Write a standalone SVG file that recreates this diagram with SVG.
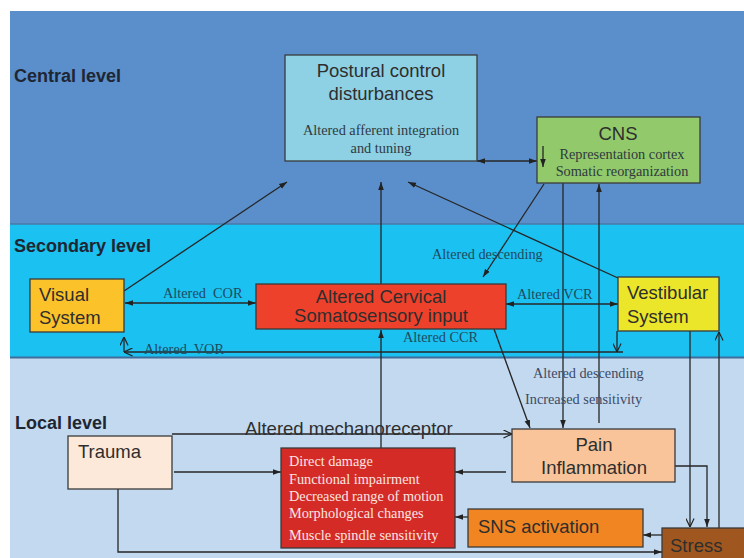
<svg xmlns="http://www.w3.org/2000/svg" width="744" height="558" viewBox="0 0 744 558">
<style>
.lvl{font-family:"Liberation Sans",Arial,sans-serif;font-weight:bold;font-size:18px;fill:#1e2633}
.t{font-family:"Liberation Sans",Arial,sans-serif;font-size:18.5px;fill:#2e2e2e}
.s{font-family:"Liberation Serif","Times New Roman",serif;font-size:14.3px;fill:#2e3a40}
.lab{font-family:"Liberation Serif","Times New Roman",serif;font-size:14.3px;fill:#1f4a5e}
.lab2{font-family:"Liberation Serif","Times New Roman",serif;font-size:14.3px;fill:#3c4a66}
.w{font-family:"Liberation Serif","Times New Roman",serif;font-size:14.3px;fill:#fbe6e3}
.box{stroke:#3a3a3a;stroke-width:1.3}
.c{fill:none;stroke:#262626;stroke-width:1.3}
</style>
<defs>
<marker id="af" viewBox="0 0 10 10" refX="10" refY="5" markerUnits="userSpaceOnUse" markerWidth="8" markerHeight="8" orient="auto-start-reverse"><path d="M0,1.5 L10,5 L0,8.5 z" fill="#222"/></marker>
<marker id="ao" viewBox="0 0 10 10" refX="9.5" refY="5" markerUnits="userSpaceOnUse" markerWidth="9" markerHeight="9" orient="auto-start-reverse"><path d="M0,0.5 L9.5,5 L0,9.5" fill="none" stroke="#222" stroke-width="1.3"/></marker>
</defs>
<rect x="0" y="0" width="744" height="558" fill="#ffffff"/>
<g id="bands">
<rect x="10" y="11" width="734" height="213" fill="#5b8fcb"/>
<rect x="10" y="224" width="734" height="134" fill="#1bc1f1"/>
<rect x="10" y="358" width="734" height="200" fill="#c3d9ef"/>
<line x1="10" y1="224" x2="744" y2="224" stroke="#4a79a8" stroke-width="1.5"/>
<line x1="10" y1="357.5" x2="744" y2="357.5" stroke="#3f6e9c" stroke-width="2"/>
<text class="lvl" x="14" y="82">Central level</text>
<text class="lvl" x="14" y="252">Secondary level</text>
<text class="lvl" x="15" y="429">Local level</text>
</g>
<g id="connectors">
<line class="c" x1="124" y1="291" x2="287" y2="182" marker-end="url(#af)"/>
<line class="c" x1="381" y1="285" x2="381" y2="182" marker-end="url(#af)"/>
<line class="c" x1="618" y1="278" x2="408" y2="182" marker-end="url(#af)"/>
<line class="c" x1="477" y1="161" x2="537" y2="161" marker-start="url(#af)" marker-end="url(#af)"/>
<line class="c" x1="544" y1="184" x2="483" y2="277" marker-end="url(#af)"/>
<line class="c" x1="563" y1="183" x2="563" y2="428" marker-end="url(#af)"/>
<line class="c" x1="599" y1="423" x2="599" y2="184" marker-end="url(#af)"/>
<line class="c" x1="125" y1="303" x2="256" y2="303" marker-start="url(#af)" marker-end="url(#af)"/>
<line class="c" x1="506" y1="304" x2="618" y2="304" marker-start="url(#af)" marker-end="url(#af)"/>
<line class="c" x1="623" y1="352" x2="124" y2="352" marker-end="url(#ao)"/>
<line class="c" x1="124" y1="352" x2="124" y2="337" marker-end="url(#ao)"/>
<line class="c" x1="617" y1="331" x2="617" y2="352" marker-end="url(#ao)"/>
<line class="c" x1="381" y1="448" x2="381" y2="330" marker-end="url(#af)"/>
<line class="c" x1="494" y1="329" x2="530" y2="428" marker-end="url(#af)"/>
<line class="c" x1="174" y1="472" x2="281" y2="472" marker-end="url(#af)"/>
<line class="c" x1="506" y1="472" x2="455" y2="472" marker-end="url(#af)"/>
<line class="c" x1="468" y1="517" x2="455" y2="517" marker-end="url(#af)"/>
<line class="c" x1="172" y1="434" x2="512" y2="434" marker-end="url(#ao)"/>
<polyline class="c" points="118,489 118,552 662,552" marker-end="url(#af)"/>
<polyline class="c" points="675,466 707,466 707,527" marker-end="url(#af)"/>
<line class="c" x1="690" y1="331" x2="690" y2="527" marker-end="url(#ao)"/>
<line class="c" x1="719" y1="528" x2="719" y2="332" marker-end="url(#ao)"/>
<line class="c" x1="662" y1="535" x2="643" y2="535" marker-end="url(#af)"/>
<text class="lab" x="163" y="298">Altered&#160; COR</text>
<text class="lab" x="517" y="299">Altered VCR</text>
<text class="lab" x="432" y="259">Altered descending</text>
<text class="lab" x="403" y="342">Altered CCR</text>
<text class="lab" x="144" y="354">Altered&#160; VOR</text>
<text class="lab2" x="533" y="378">Altered descending</text>
<text class="lab2" x="525" y="404">Increased sensitivity</text>
<text class="t" x="245" y="435" fill="#3a3f48">Altered mechanoreceptor</text>
</g>
<g id="postural">
<rect class="box" x="285" y="55" width="192" height="106" fill="#8fd1e4"/>
<text class="t" x="381" y="77" text-anchor="middle">Postural control</text>
<text class="t" x="381" y="100" text-anchor="middle">disturbances</text>
<text class="s" x="381" y="135" text-anchor="middle">Altered afferent integration</text>
<text class="s" x="381" y="153" text-anchor="middle">and tuning</text>
</g>
<g id="cns">
<rect class="box" x="537" y="117" width="163" height="66" fill="#92c96a"/>
<text class="t" x="618" y="140" text-anchor="middle">CNS</text>
<text class="s" x="622" y="159" text-anchor="middle">Representation cortex</text>
<text class="s" x="622" y="176" text-anchor="middle">Somatic reorganization</text>
<line class="c" x1="543" y1="146" x2="543" y2="167" marker-end="url(#af)"/>
</g>
<g id="visual">
<rect class="box" x="30" y="279" width="94" height="53" fill="#fcc22a"/>
<text class="t" x="39" y="301">Visual</text>
<text class="t" x="39" y="324">System</text>
</g>
<g id="cervical">
<rect class="box" x="256" y="284" width="250" height="45" fill="#ee412b"/>
<text class="t" x="381" y="303" text-anchor="middle">Altered Cervical</text>
<text class="t" x="381" y="322" text-anchor="middle">Somatosensory input</text>
</g>
<g id="vestibular">
<rect class="box" x="618" y="277" width="101" height="54" fill="#ece62a"/>
<text class="t" x="627" y="299">Vestibular</text>
<text class="t" x="627" y="323">System</text>
</g>
<g id="trauma">
<rect class="box" x="68" y="436" width="104" height="53" fill="#fde9d9"/>
<text class="t" x="78" y="458">Trauma</text>
</g>
<g id="damage">
<rect class="box" x="281" y="448" width="174" height="100" fill="#d42b26"/>
<text class="w" x="289" y="466">Direct damage</text>
<text class="w" x="289" y="484">Functional impairment</text>
<text class="w" x="289" y="501">Decreased range of motion</text>
<text class="w" x="289" y="518">Morphological changes</text>
<text class="w" x="289" y="540">Muscle spindle sensitivity</text>
</g>
<g id="pain">
<rect class="box" x="512" y="429" width="163" height="53" fill="#f9c49a"/>
<text class="t" x="594" y="451" text-anchor="middle">Pain</text>
<text class="t" x="594" y="474" text-anchor="middle">Inflammation</text>
</g>
<g id="sns">
<rect class="box" x="468" y="509" width="175" height="38" fill="#f08522"/>
<text class="t" x="478" y="533">SNS activation</text>
</g>
<g id="stress">
<rect class="box" x="662" y="528" width="90" height="40" fill="#a0571f"/>
<text class="t" x="670" y="552" fill="#222">Stress</text>
</g>
</svg>
